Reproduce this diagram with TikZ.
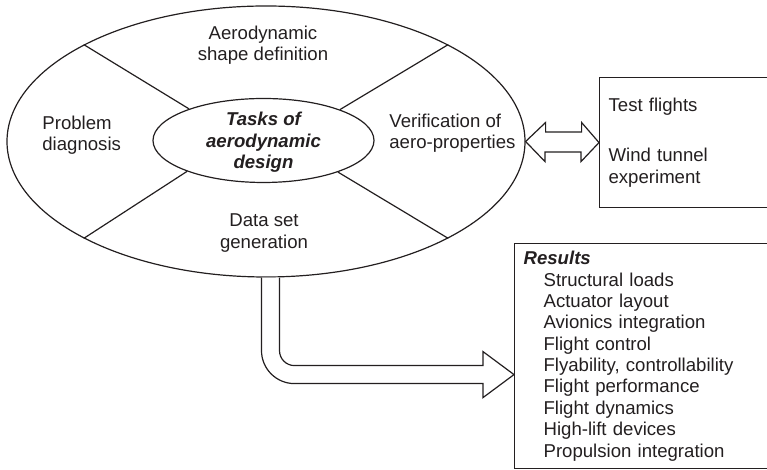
\documentclass[tikz,border=0pt]{standalone}
\usepackage{fontspec}
\setmainfont{Liberation Sans}
\usepackage{tikz}
\usetikzlibrary{
  positioning,
  calc,
  shapes.geometric
}
\definecolor{InkBlack}{RGB}{35,31,32}
\tikzset{
  basefont/.style={font=\fontsize{9.3}{10.7}\selectfont},
  ringnode/.style={draw=InkBlack,ellipse,line width=0.6pt,inner sep=0pt},
  sectorlabel/.style={basefont,text=InkBlack,inner sep=0pt,align=center},
  tasklabel/.style={basefont,text=InkBlack,inner sep=0pt,align=center,font=\fontsize{9.3}{10.7}\selectfont\bfseries\itshape},
  listbox/.style={draw=InkBlack,line width=0.6pt,basefont,text=InkBlack,align=left,inner xsep=4.5pt,inner ysep=0pt,anchor=north west},
  divider/.style={draw=InkBlack,line width=0.6pt},
  blockarrow/.style={draw=InkBlack,line width=0.6pt,line join=miter,fill=white}
}

\begin{document}
\begin{tikzpicture}[x=0.5pt,y=0.5pt]
\useasboundingbox (0,0) rectangle (767,470);
\clip (0,0) rectangle (767,470);

% the task ring
\node[ringnode, minimum width=259pt, minimum height=135.5pt] (outer) at (266,328.5) {};
\node[ringnode, minimum width=110.5pt, minimum height=42pt, fill=white] (hub) at (263.5,329.5) {};
\node[tasklabel, yshift=-1pt] (tasklbl) at (hub) {Tasks of\\aerodynamic\\design};

\draw[divider] (outer.152) -- (hub.157.5);
\draw[divider] (outer.28) -- (hub.22.5);
\draw[divider] (outer.208) -- (hub.202.5);
\draw[divider] (outer.332) -- (hub.337.5);

\node[sectorlabel] (shapelbl) at (263,425) {Aerodynamic\\shape definition};
\node[sectorlabel, align=left, anchor=west] (problbl) at (42,335) {Problem\\diagnosis};
\node[sectorlabel, align=left, anchor=west] (veriflbl) at (389,336.5) {Verification of\\aero-properties};
\node[sectorlabel] (datalbl) at (264,237) {Data set\\generation};

% boxes on the right
\node[listbox, text width=120pt, minimum height=65pt] (tests) at (599,393)
  {Test flights\\[14.3pt]Wind tunnel\\experiment};
\node[listbox, text width=160pt, minimum height=112.5pt] (results) at (514,227)
  {\textbf{\textit{Results}}\\
   \hspace*{10pt}Structural loads\\
   \hspace*{10pt}Actuator layout\\
   \hspace*{10pt}Avionics integration\\
   \hspace*{10pt}Flight control\\
   \hspace*{10pt}Flyability, controllability\\
   \hspace*{10pt}Flight performance\\
   \hspace*{10pt}Flight dynamics\\
   \hspace*{10pt}High-lift devices\\
   \hspace*{10pt}Propulsion integration\\[-2pt]};
\coordinate (bendtip) at ([yshift=-9.25pt]results.west);

% block arrows
\draw[blockarrow] (outer.east) -- ++(20,19) -- ++(0,-9.5) -- ++(36,0) -- ++(0,9.5)
  -- (tests.west) -- ++(-18,-19) -- ++(0,9.5) -- ++(-36,0) -- ++(0,-9.5) -- cycle;
\draw[blockarrow] ([xshift=6.75pt]outer.south) -- ++(0,-73)
  arc[start angle=180, end angle=270, radius=15] -- ++(188.5,0) -- ++(0,14)
  -- (bendtip) -- ++(-31,-23) -- ++(0,14) -- ++(-188.5,0)
  arc[start angle=270, end angle=180, radius=33] -- ++(0,73);
\end{tikzpicture}
\end{document}
